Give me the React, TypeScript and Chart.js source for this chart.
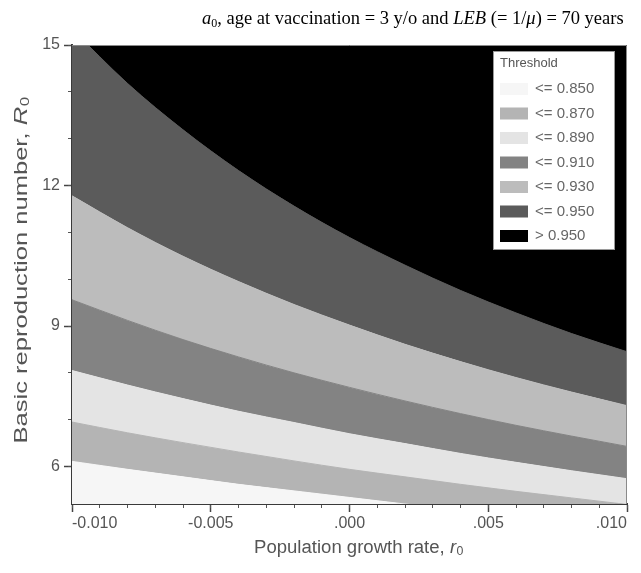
import React, { useEffect, useRef } from "react";
import { Chart, registerables } from "chart.js";

Chart.register(...registerables);

// Population growth rate r0 (x positions where contours were read)
const GROWTH_RATES = [-0.01, -0.008, -0.006, -0.004, -0.002, 0.0, 0.002, 0.004, 0.006, 0.008, 0.01];

// R0 values of each threshold contour
const R0_AT_0850 = [6.11, 5.94, 5.78, 5.62, 5.48, 5.34, 5.2, 5.08, 4.96, 4.84, 4.73];
const R0_AT_0870 = [6.95, 6.72, 6.51, 6.31, 6.12, 5.94, 5.78, 5.62, 5.47, 5.33, 5.19];
const R0_AT_0890 = [8.05, 7.74, 7.45, 7.18, 6.94, 6.7, 6.49, 6.28, 6.09, 5.91, 5.74];
const R0_AT_0910 = [9.56, 9.12, 8.71, 8.34, 8.0, 7.69, 7.4, 7.13, 6.88, 6.65, 6.43];
const R0_AT_0930 = [11.78, 11.1, 10.49, 9.95, 9.46, 9.02, 8.61, 8.24, 7.9, 7.59, 7.3];
const R0_AT_0950 = [15.34, 14.18, 13.19, 12.32, 11.56, 10.89, 10.3, 9.76, 9.28, 8.84, 8.45];

const THRESHOLD_LABELS = ["<= 0.850", "<= 0.870", "<= 0.890", "<= 0.910", "<= 0.930", "<= 0.950", "> 0.950"];
const BAND_COLORS = ["#f6f6f6", "#b4b4b4", "#e4e4e4", "#838383", "#bcbcbc", "#5b5b5b", "#000000"];
const BAND_UPPER_CONTOURS = [R0_AT_0850, R0_AT_0870, R0_AT_0890, R0_AT_0910, R0_AT_0930, R0_AT_0950, R0_AT_0950];
const BAND_FILLS: any[] = ["start", "-1", "-1", "-1", "-1", "-1", "end"];

const X_MIN = -0.01;
const X_MAX = 0.01;
const Y_MIN = 5.2;
const Y_MAX = 15;

const X_TICKS = [-0.01, -0.005, 0, 0.005, 0.01];
const X_TICK_LABELS = ["-0.010", "-0.005", ".000", ".005", ".010"];
const X_MINOR_TICKS = [-0.01, -0.009, -0.008, -0.007, -0.006, -0.005, -0.004, -0.003, -0.002, -0.001, 0, 0.001, 0.002, 0.003, 0.004, 0.005, 0.006, 0.007, 0.008, 0.009, 0.01];
const Y_TICKS = [6, 9, 12, 15];
const Y_TICK_LABELS = ["6", "9", "12", "15"];
const Y_MINOR_TICKS = [6, 7, 8, 9, 10, 11, 12, 13, 14, 15];

const Y_TITLE = ["Basic reproduction number, ", "R", "0"];
const X_TITLE = ["Population growth rate, ", "r", "0"];

const SANS = "'Liberation Sans', Arial, sans-serif";

function drawAxisTitle(ctx: any, parts: string[], stretch: number) {
  const fMain = `18px ${SANS}`;
  const fSym = `italic 18px ${SANS}`;
  const fSub = `12px ${SANS}`;
  ctx.font = fMain;
  const w1 = ctx.measureText(parts[0]).width;
  ctx.font = fSym;
  const w2 = ctx.measureText(parts[1]).width;
  ctx.font = fSub;
  const w3 = ctx.measureText(parts[2]).width;
  const total = w1 + w2 + w3;
  ctx.scale(stretch, 1);
  let x = -total / 2;
  ctx.font = fMain;
  ctx.fillText(parts[0], x, 0);
  x += w1;
  ctx.font = fSym;
  ctx.fillText(parts[1], x, 0);
  x += w2 + 0.5;
  ctx.font = fSub;
  ctx.fillText(parts[2], x, 4);
}

const axisTitles = {
  id: "axisTitles",
  afterDraw(chart: any) {
    const { ctx, chartArea } = chart;
    ctx.save();
    ctx.fillStyle = "#555555";
    ctx.textBaseline = "middle";
    ctx.textAlign = "left";
    ctx.save();
    ctx.translate(14, (chartArea.top + chartArea.bottom) / 2 - 4);
    ctx.rotate(-Math.PI / 2);
    drawAxisTitle(ctx, Y_TITLE, 1.42);
    ctx.restore();
    ctx.save();
    ctx.translate((chartArea.left + chartArea.right) / 2 + 9, chartArea.bottom + 44);
    drawAxisTitle(ctx, X_TITLE, 1.03);
    ctx.restore();
    ctx.restore();
  },
};

const thresholdLegend = {
  id: "thresholdLegend",
  afterDatasetsDraw(chart: any) {
    const { ctx, chartArea } = chart;
    const w = 122;
    const h = 199;
    const x0 = chartArea.right - 134;
    const y0 = chartArea.top + 6;
    ctx.save();
    ctx.fillStyle = "#ffffff";
    ctx.fillRect(x0, y0, w, h);
    ctx.strokeStyle = "#9a9a9a";
    ctx.lineWidth = 1;
    ctx.strokeRect(x0 + 0.5, y0 + 0.5, w - 1, h - 1);
    ctx.textBaseline = "middle";
    ctx.textAlign = "left";
    ctx.fillStyle = "#555555";
    ctx.font = `13px ${SANS}`;
    ctx.fillText("Threshold", x0 + 7, y0 + 12);
    chart.data.datasets.forEach((ds: any, i: number) => {
      const cy = y0 + 38 + i * 24.5;
      ctx.fillStyle = ds.backgroundColor;
      ctx.fillRect(x0 + 7, cy - 6, 28, 12);
      ctx.fillStyle = "#666666";
      ctx.font = `15px ${SANS}`;
      ctx.fillText(ds.label, x0 + 42, cy);
    });
    ctx.restore();
  },
};

const plotFrame = {
  id: "plotFrame",
  afterDatasetsDraw(chart: any) {
    const { ctx, chartArea } = chart;
    ctx.save();
    ctx.strokeStyle = "#8a8a8a";
    ctx.lineWidth = 1;
    ctx.beginPath();
    ctx.moveTo(chartArea.left, chartArea.top + 0.5);
    ctx.lineTo(chartArea.right - 0.5, chartArea.top + 0.5);
    ctx.lineTo(chartArea.right - 0.5, chartArea.bottom);
    ctx.stroke();
    ctx.restore();
  },
};

export default function App() {
  const canvasRef = useRef<HTMLCanvasElement | null>(null);

  useEffect(() => {
    if (!canvasRef.current) return;
    const datasets = BAND_UPPER_CONTOURS.map((vals, i) => ({
      label: THRESHOLD_LABELS[i],
      data: GROWTH_RATES.map((r, j) => ({ x: r, y: vals[j] })),
      fill: BAND_FILLS[i],
      backgroundColor: BAND_COLORS[i],
      borderColor: BAND_COLORS[i],
      borderWidth: 1,
      pointRadius: 0,
      cubicInterpolationMode: "monotone" as const,
    }));

    const chart = new Chart(canvasRef.current, {
      type: "line",
      data: { datasets },
      plugins: [plotFrame, thresholdLegend, axisTitles],
      options: {
        animation: false,
        responsive: true,
        maintainAspectRatio: false,
        events: [],
        layout: { padding: { top: 37, left: 0, right: 0, bottom: 0 } },
        plugins: {
          legend: { display: false },
          tooltip: { enabled: false },
          title: { display: false },
        },
        scales: {
          x: {
            type: "linear",
            position: "bottom",
            min: X_MIN,
            max: X_MAX,
            weight: 1,
            z: 1,
            afterBuildTicks: (s: any) => {
              s.ticks = X_TICKS.map((v) => ({ value: v }));
            },
            afterFit: (s: any) => {
              s.height = 54;
              s.paddingLeft = 0;
              s.paddingRight = 14;
            },
            grid: { drawOnChartArea: false, drawTicks: true, tickLength: 8, tickColor: "#444444", tickWidth: 1.5 },
            border: { display: true, color: "#3a3a3a", width: 2 },
            ticks: {
              autoSkip: false,
              maxRotation: 0,
              align: "inner",
              padding: 2,
              color: "#555555",
              font: { family: SANS, size: 16 },
              callback: (v: any) => {
                const idx = X_TICKS.findIndex((t) => Math.abs(t - Number(v)) < 1e-9);
                return idx >= 0 ? X_TICK_LABELS[idx] : "";
              },
            },
            title: { display: false },
          },
          xMinor: {
            type: "linear",
            position: "bottom",
            min: X_MIN,
            max: X_MAX,
            weight: 0,
            z: 1,
            afterBuildTicks: (s: any) => {
              s.ticks = X_MINOR_TICKS.map((v) => ({ value: v }));
            },
            afterFit: (s: any) => {
              s.height = 0;
              s.paddingLeft = 0;
              s.paddingRight = 0;
            },
            grid: { drawOnChartArea: false, drawTicks: true, tickLength: 4, tickColor: "#555555", tickWidth: 1 },
            border: { display: false },
            ticks: { display: false },
          },
          y: {
            type: "linear",
            position: "left",
            min: Y_MIN,
            max: Y_MAX,
            weight: 1,
            z: 1,
            afterBuildTicks: (s: any) => {
              s.ticks = Y_TICKS.map((v) => ({ value: v }));
            },
            afterFit: (s: any) => {
              s.width = 64;
            },
            grid: { drawOnChartArea: false, drawTicks: true, tickLength: 8, tickColor: "#444444", tickWidth: 1.5 },
            border: { display: true, color: "#3a3a3a", width: 2 },
            ticks: {
              padding: 4,
              color: "#555555",
              font: { family: SANS, size: 16 },
              callback: (v: any) => {
                const idx = Y_TICKS.indexOf(Number(v));
                return idx >= 0 ? Y_TICK_LABELS[idx] : "";
              },
            },
            title: { display: false },
          },
          yMinor: {
            type: "linear",
            position: "left",
            min: Y_MIN,
            max: Y_MAX,
            weight: 0,
            z: 1,
            afterBuildTicks: (s: any) => {
              s.ticks = Y_MINOR_TICKS.map((v) => ({ value: v }));
            },
            afterFit: (s: any) => {
              s.width = 0;
            },
            grid: { drawOnChartArea: false, drawTicks: true, tickLength: 4, tickColor: "#555555", tickWidth: 1 },
            border: { display: false },
            ticks: { display: false },
          },
        },
      } as any,
    });
    return () => chart.destroy();
  }, []);

  return (
    <div style={{ position: "relative", width: 633, height: 550 }}>
      <div
        style={{
          position: "absolute",
          top: 0,
          left: 194,
          whiteSpace: "nowrap",
          fontFamily: "'Liberation Serif', 'Times New Roman', serif",
          fontSize: 18.5,
          lineHeight: "20px",
          color: "#000",
        }}
      >
        <i>a</i>
        <sub style={{ fontSize: 12, verticalAlign: "-3px", lineHeight: 0 }}>0</sub>, age at vaccination = 3 y/o and <i>LEB</i> (= 1/<i>μ</i>) = 70 years
      </div>
      <canvas ref={canvasRef} style={{ display: "block" }} />
    </div>
  );
}
